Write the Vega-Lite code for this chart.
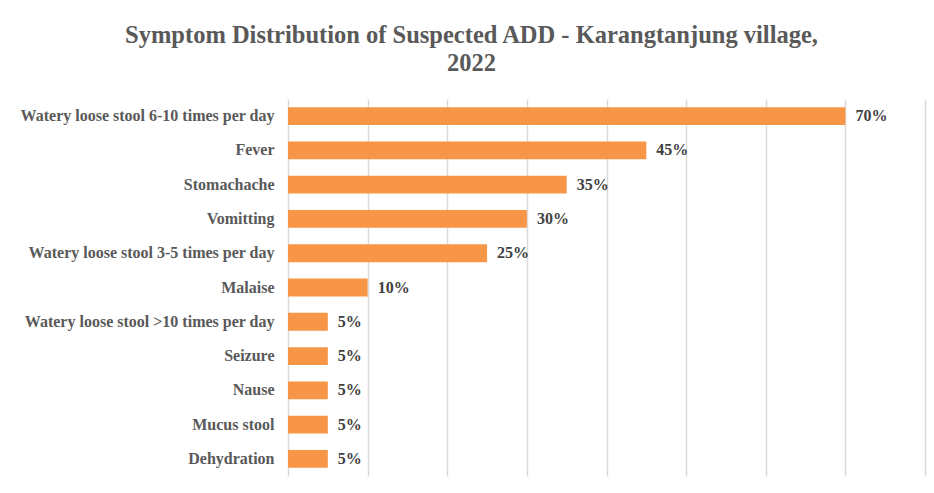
{
  "$schema": "https://vega.github.io/schema/vega-lite/v6.json",
  "autosize": "none",
  "width": 637,
  "height": 377,
  "padding": {"left": 288, "top": 99, "right": 9, "bottom": 17},
  "background": "white",
  "title": {
    "text": ["Symptom Distribution of Suspected ADD - Karangtanjung village,", "2022"],
    "font": "Liberation Serif",
    "fontSize": 24.5,
    "fontWeight": "bold",
    "color": "#595959",
    "anchor": "middle",
    "dx": -135,
    "offset": 23,
    "lineHeight": 28
  },
  "data": {
    "values": [
      {"symptom": "Watery loose stool 6-10 times per day", "pct": 0.70},
      {"symptom": "Fever", "pct": 0.45},
      {"symptom": "Stomachache", "pct": 0.35},
      {"symptom": "Vomitting", "pct": 0.30},
      {"symptom": "Watery loose stool 3-5 times per day", "pct": 0.25},
      {"symptom": "Malaise", "pct": 0.10},
      {"symptom": "Watery loose stool >10 times per day", "pct": 0.05},
      {"symptom": "Seizure", "pct": 0.05},
      {"symptom": "Nause", "pct": 0.05},
      {"symptom": "Mucus stool", "pct": 0.05},
      {"symptom": "Dehydration", "pct": 0.05}
    ]
  },
  "encoding": {
    "y": {
      "field": "symptom",
      "type": "nominal",
      "sort": null,
      "scale": {"paddingInner": 0.48, "paddingOuter": 0.24},
      "axis": {
        "title": null,
        "domain": false,
        "ticks": false,
        "labelPadding": 14,
        "labelFont": "Liberation Serif",
        "labelFontSize": 16,
        "labelFontWeight": "bold",
        "labelColor": "#595959",
        "labelLimit": 400
      }
    },
    "x": {
      "field": "pct",
      "type": "quantitative",
      "scale": {"domain": [0, 0.8], "nice": false},
      "axis": {
        "title": null,
        "labels": false,
        "ticks": false,
        "domain": false,
        "values": [0, 0.1, 0.2, 0.3, 0.4, 0.5, 0.6, 0.7, 0.8],
        "grid": true,
        "gridColor": "#D9D9D9",
        "gridWidth": 1.5
      }
    }
  },
  "layer": [
    {"mark": {"type": "bar", "color": "#F79646"}},
    {
      "mark": {
        "type": "text",
        "align": "left",
        "baseline": "middle",
        "dx": 10,
        "font": "Liberation Serif",
        "fontSize": 16,
        "fontWeight": "bold",
        "color": "#404040"
      },
      "encoding": {
        "text": {"field": "pct", "type": "quantitative", "format": ".0%"}
      }
    }
  ],
  "config": {"view": {"stroke": null}}
}
